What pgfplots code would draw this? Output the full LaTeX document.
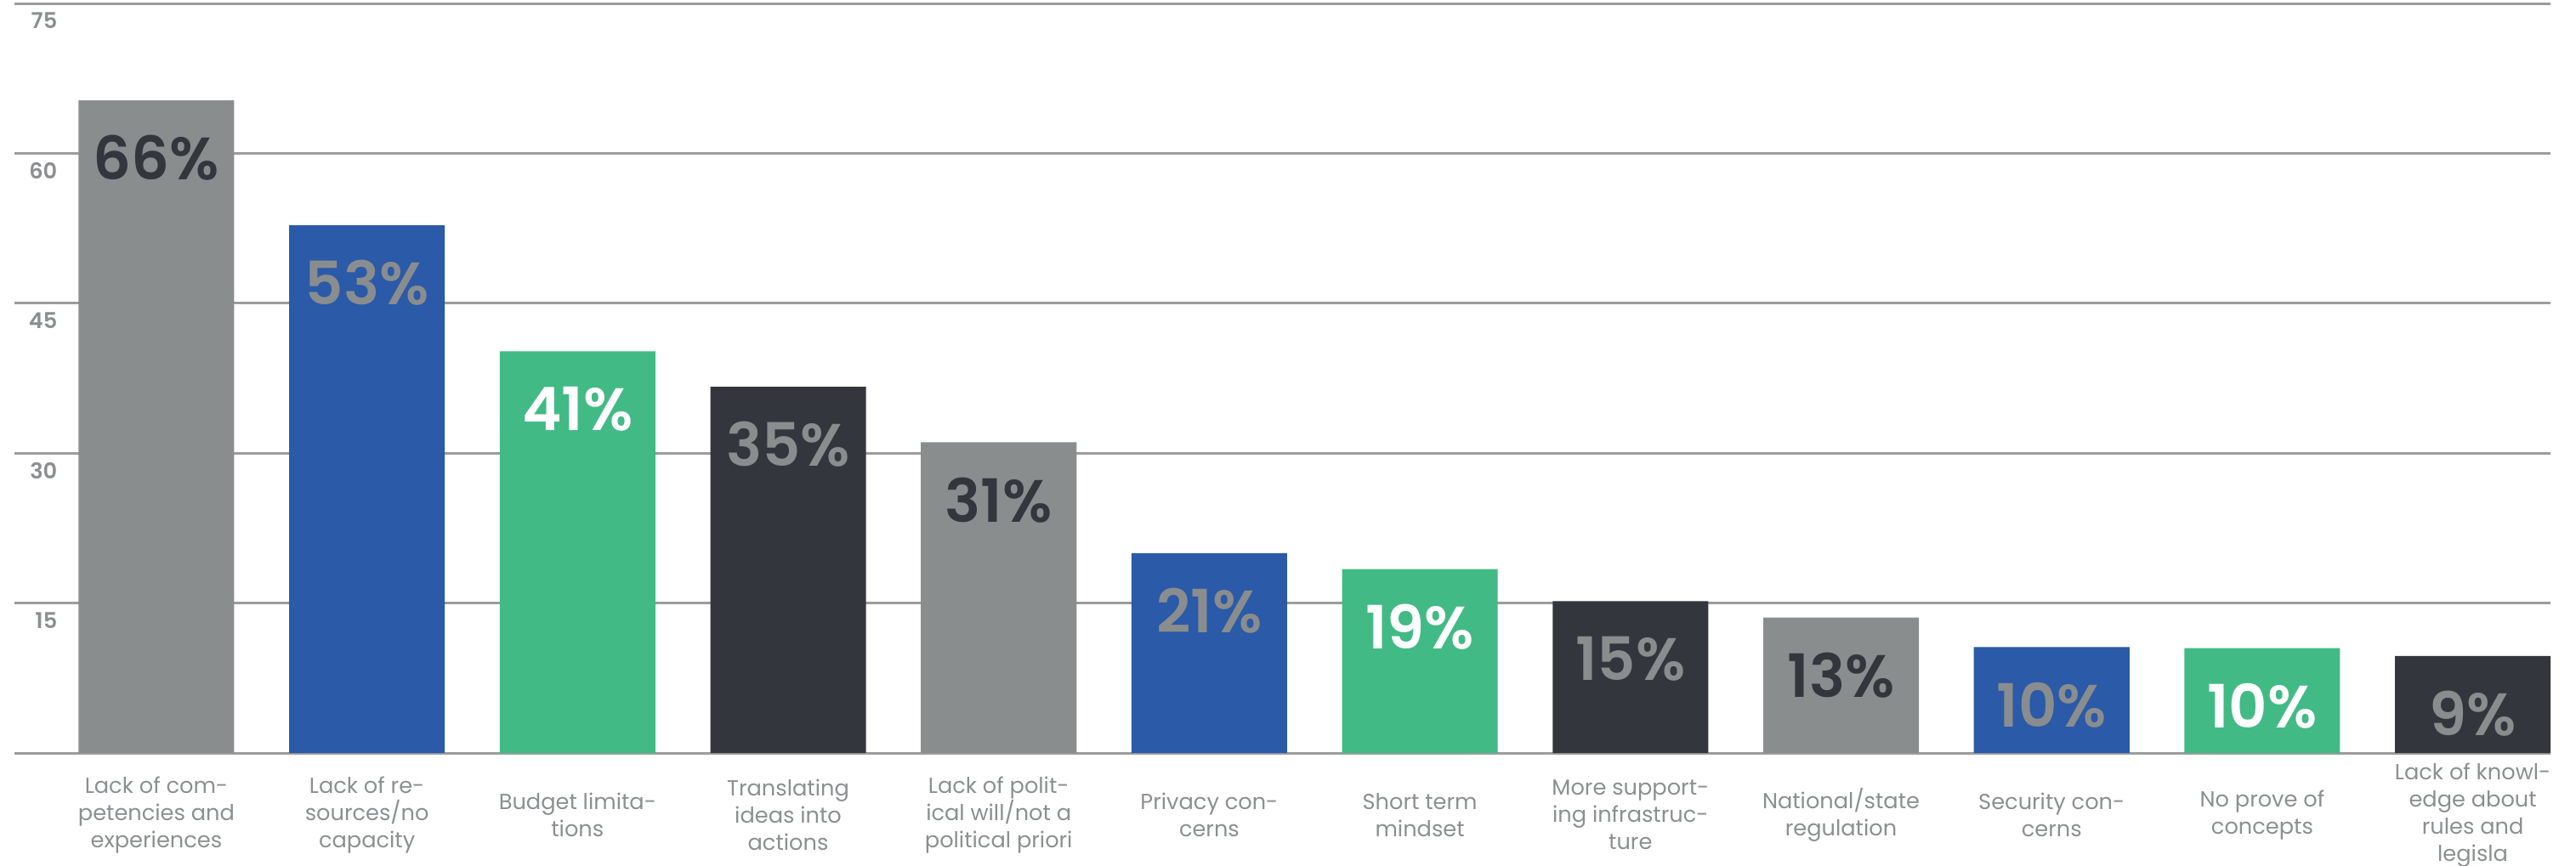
\documentclass[border=0pt]{standalone}
\usepackage{fontspec}
\setmainfont{Poppins}[BoldFont={Poppins SemiBold}]
\usepackage{pgfplots}
\pgfplotsset{compat=1.18}
\definecolor{cgray}{HTML}{8A8D8E}
\definecolor{cblue}{HTML}{2A5AA8}
\definecolor{cgreen}{HTML}{42BA85}
\definecolor{cdark}{HTML}{33363C}
\definecolor{ctext}{HTML}{8C8F90}
\definecolor{cline}{HTML}{9C9C9C}
\begin{document}
\begin{tikzpicture}
\begin{axis}[
  scale only axis, width=298.3mm, height=88.2mm,
  xmin=-0.674, xmax=11.369, ymin=0, ymax=75,
  ybar, bar width=0.739,
  axis line style={draw=none},
  major tick length=0pt,
  ytick={15,30,45,60,75},
  extra y ticks={0}, extra y tick labels={},
  ymajorgrids, grid style={draw=cline, line width=0.3mm},
  /pgf/number format/assume math mode=true,
  yticklabel style={anchor=north east, inner sep=0pt, xshift=5.1mm, yshift=-1mm,
    font=\fontsize{7.3}{9}\selectfont\bfseries, text=ctext},
  xtick={0,...,11},
  xticklabels={{Lack of com-\\petencies and\\experiences},
    {Lack of re-\\sources/no\\capacity},
    {Budget limita-\\tions},
    {Translating\\ideas into\\actions},
    {Lack of polit-\\ical will/not a\\political priori},
    {Privacy con-\\cerns},
    {Short term\\mindset},
    {More support-\\ing infrastruc-\\ture},
    {National/state\\regulation},
    {Security con-\\cerns},
    {No prove of\\concepts},
    {Lack of knowl-\\edge about\\rules and\\legisla}},
  xticklabel style={align=center, anchor=center, inner sep=0pt, yshift=-7.3mm,
    font=\fontsize{7.3}{9.1}\selectfont, text=ctext},
  nodes near coords,
  point meta=explicit symbolic,
  every node near coord/.append style={anchor=center, yshift=-6.8mm,
    font=\fontsize{20}{24}\selectfont\bfseries},
]
\addplot[fill=cgray, draw=none, bar shift=0pt,
  every node near coord/.append style={text=cdark}]
  coordinates {(0,65.3) [66\%] (4,31.1) [31\%] (8,13.55) [13\%]};
\addplot[fill=cblue, draw=none, bar shift=0pt,
  every node near coord/.append style={text=cgray}]
  coordinates {(1,52.8) [53\%] (5,20.0) [21\%] (9,10.6) [10\%]};
\addplot[fill=cgreen, draw=none, bar shift=0pt,
  every node near coord/.append style={text=white}]
  coordinates {(2,40.2) [41\%] (6,18.4) [19\%] (10,10.5) [10\%]};
\addplot[fill=cdark, draw=none, bar shift=0pt,
  every node near coord/.append style={text=cgray}]
  coordinates {(3,36.65) [35\%] (7,15.2) [15\%] (11,9.7) [9\%]};
\end{axis}
\pgfresetboundingbox
\path (current axis.south west) ++(-1.7mm,-13.2mm) rectangle ++(303mm,101.8mm);
\end{tikzpicture}
\end{document}
